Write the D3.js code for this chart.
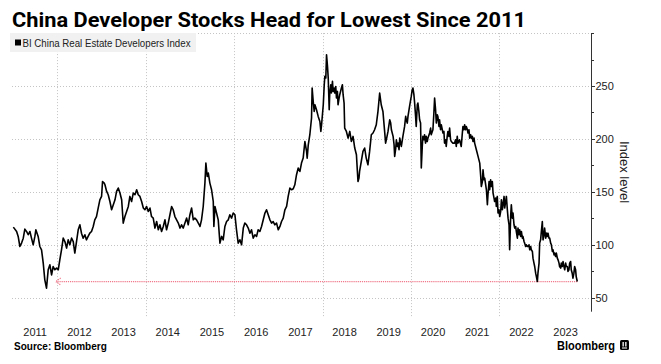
<!DOCTYPE html>
<html><head><meta charset="utf-8">
<script src="https://cdn.jsdelivr.net/npm/d3@7/dist/d3.min.js"></script>
<style>html,body{margin:0;padding:0;background:#fff;}svg{display:block;}</style>
</head><body>
<script>
const title = "China Developer Stocks Head for Lowest Since 2011";
const seriesName = "BI China Real Estate Developers Index";
const yAxisTitle = "Index level";
const sourceText = "Source: Bloomberg";
const brandText = "Bloomberg";
const yearLabels = [2011,2012,2013,2014,2015,2016,2017,2018,2019,2020,2021,2022,2023];
const yTickLabels = [50,100,150,200,250];
const yMinorTicks = [75,125,175,225,275,300];
const yGridValues = [50,100,150,200,250,300];
const xGridYears = [2012,2014,2016,2018,2020,2022];
const arrowLevel = 65.3;
const arrowFrom = "2023-10-07";
const arrowTo = "2011-12-19";

const dates = [
"2011-01-03","2011-01-30","2011-02-12","2011-02-26","2011-03-12","2011-03-26","2011-04-08","2011-04-22","2011-05-06","2011-05-20",
"2011-06-02","2011-06-16","2011-06-30","2011-07-08","2011-07-27","2011-08-10","2011-08-24","2011-09-07","2011-09-20","2011-10-04",
"2011-10-18","2011-11-01","2011-11-15","2011-11-28","2011-12-12","2011-12-26","2012-01-09","2012-01-22","2012-02-05","2012-02-19",
"2012-03-04","2012-03-18","2012-03-31","2012-04-14","2012-04-28","2012-05-12","2012-05-25","2012-06-08","2012-06-22","2012-07-06",
"2012-07-19","2012-08-02","2012-08-16","2012-08-29","2012-09-12","2012-09-26","2012-10-10","2012-10-24","2012-11-06","2012-11-20",
"2012-12-04","2012-12-18","2013-01-01","2013-01-09","2013-01-23",
"2013-01-29","2013-02-12","2013-02-25","2013-03-11","2013-03-25","2013-04-08","2013-04-22","2013-05-05","2013-05-19","2013-06-02",
"2013-06-16","2013-06-29","2013-07-13","2013-07-27","2013-08-10","2013-08-23","2013-09-06","2013-09-20","2013-10-04","2013-10-18",
"2013-10-31","2013-11-14","2013-11-28","2013-12-12","2013-12-25","2014-01-08","2014-01-22","2014-02-05","2014-02-18","2014-03-04",
"2014-03-18","2014-04-01","2014-04-15","2014-04-28","2014-05-12","2014-05-26","2014-06-09","2014-06-22","2014-07-06","2014-07-20",
"2014-08-03","2014-08-16","2014-08-30","2014-09-13","2014-09-27","2014-10-11","2014-10-24","2014-11-07","2014-11-21","2014-12-05",
"2014-12-18","2015-01-01","2015-01-15","2015-01-29","2015-02-11","2015-02-25","2015-03-19",
"2015-03-25","2015-04-07","2015-04-21","2015-05-05","2015-05-13","2015-05-24","2015-06-02","2015-06-15","2015-06-29","2015-07-13",
"2015-07-18","2015-07-27","2015-08-09","2015-08-23","2015-09-06","2015-09-20","2015-10-03","2015-10-17","2015-10-31","2015-11-14",
"2015-11-27","2015-12-11","2015-12-25","2016-01-08","2016-01-21","2016-02-04","2016-02-18","2016-03-03","2016-03-17","2016-03-30",
"2016-04-13","2016-04-27","2016-05-11","2016-05-24","2016-06-07","2016-06-21","2016-07-05","2016-07-18","2016-08-01","2016-08-15",
"2016-08-29","2016-09-12","2016-09-25","2016-10-09","2016-10-23","2016-11-06","2016-11-19","2016-12-03","2016-12-17","2016-12-31",
"2017-01-14","2017-01-27","2017-02-10","2017-02-24","2017-03-10","2017-03-23","2017-04-06","2017-04-20",
"2017-05-04","2017-05-17","2017-05-31","2017-06-14","2017-06-28","2017-07-11","2017-07-25","2017-08-08","2017-08-22","2017-08-27",
"2017-09-05","2017-09-18","2017-10-02","2017-10-07","2017-10-16","2017-10-24","2017-10-30","2017-11-12","2017-11-26","2017-12-10",
"2017-12-18","2017-12-24","2018-01-07","2018-01-15","2018-01-20","2018-01-28","2018-02-03","2018-02-11","2018-02-17","2018-02-25",
"2018-03-01","2018-03-10","2018-03-15","2018-03-24","2018-03-29","2018-04-06","2018-04-12","2018-04-20","2018-04-26","2018-05-04",
"2018-05-09","2018-05-18","2018-05-23","2018-06-06","2018-06-14","2018-06-20","2018-06-28","2018-07-03","2018-07-17","2018-07-31",
"2018-08-14","2018-08-27","2018-09-10","2018-09-24","2018-10-08","2018-10-16","2018-10-21","2018-10-29","2018-11-03","2018-11-17",
"2018-12-01","2018-12-15","2018-12-28","2019-01-11","2019-01-25","2019-02-08","2019-02-22","2019-03-07","2019-03-21","2019-04-04",
"2019-04-18","2019-05-01","2019-05-15","2019-05-29","2019-06-06","2019-06-12","2019-06-26",
"2019-07-10","2019-07-18","2019-07-24","2019-08-07","2019-08-15","2019-08-20","2019-08-29","2019-09-03","2019-09-11","2019-09-17",
"2019-09-25","2019-10-01","2019-10-14","2019-10-27","2019-11-10","2019-11-19","2019-11-24","2019-12-02","2019-12-08","2019-12-21",
"2020-01-04","2020-01-12","2020-01-18","2020-01-26","2020-02-01","2020-02-09","2020-02-14","2020-02-23","2020-02-28","2020-03-07",
"2020-03-13","2020-03-21","2020-03-27","2020-04-04","2020-04-09","2020-04-18","2020-04-23","2020-05-01","2020-05-07","2020-05-15",
"2020-05-21","2020-06-04","2020-06-12","2020-06-17","2020-06-26","2020-07-01","2020-07-09","2020-07-15","2020-07-23","2020-07-29",
"2020-08-06","2020-08-11","2020-08-20","2020-08-25","2020-09-02","2020-09-08","2020-09-22","2020-09-30","2020-10-05","2020-10-14",
"2020-10-19","2020-10-27","2020-11-02","2020-11-10","2020-11-16","2020-11-24","2020-11-30","2020-12-13","2020-12-27","2021-01-04",
"2021-01-10","2021-01-18","2021-01-24","2021-02-06","2021-02-20","2021-02-28","2021-03-06","2021-03-14","2021-03-20","2021-03-28",
"2021-04-03","2021-04-12","2021-04-17","2021-04-25","2021-05-01","2021-05-09","2021-05-15","2021-05-23","2021-05-28","2021-06-06",
"2021-06-11","2021-06-25","2021-07-09","2021-07-23","2021-07-31","2021-08-05","2021-08-14","2021-08-19","2021-08-27",
"2021-09-02","2021-09-10","2021-09-16","2021-09-24","2021-09-29","2021-10-08","2021-10-13","2021-10-21","2021-10-27","2021-11-04",
"2021-11-10","2021-11-18","2021-11-23","2021-12-02","2021-12-07","2021-12-15","2021-12-21","2021-12-29","2022-01-04","2022-01-12",
"2022-01-18","2022-01-26","2022-01-31","2022-02-09","2022-02-14","2022-02-22","2022-02-28","2022-03-08","2022-03-14","2022-03-22",
"2022-03-27","2022-04-05","2022-04-10","2022-04-18","2022-04-24","2022-05-02","2022-05-08","2022-05-16","2022-05-21","2022-05-30",
"2022-06-04","2022-06-12","2022-06-18","2022-06-26","2022-07-02","2022-07-10","2022-07-15","2022-07-24","2022-07-29","2022-08-06",
"2022-08-12","2022-08-20","2022-08-26","2022-09-03","2022-09-09","2022-09-17","2022-09-22","2022-10-01","2022-10-06","2022-10-14",
"2022-10-20","2022-10-28","2022-11-03","2022-11-11","2022-11-16","2022-11-25","2022-11-30","2022-12-08","2022-12-14","2022-12-22",
"2022-12-28","2023-01-05","2023-01-10","2023-01-19","2023-01-24","2023-02-01","2023-02-07","2023-02-15","2023-02-21","2023-03-01",
"2023-03-07","2023-03-15","2023-03-20","2023-03-29","2023-04-03","2023-04-11","2023-04-17","2023-04-25","2023-05-01","2023-05-09",
"2023-05-14","2023-05-23","2023-05-28","2023-06-05","2023-06-11","2023-06-19","2023-06-25","2023-07-03","2023-07-08","2023-07-17",
"2023-07-22","2023-07-30","2023-08-05","2023-08-13","2023-08-18","2023-08-26","2023-09-01","2023-09-09","2023-09-15","2023-09-23",
"2023-09-28","2023-10-07"
];
const values = [
116.7,112.6,107.9,98.4,101.6,106.3,114.8,112.6,109.5,112.6,
106.3,100,107.9,114.2,107.9,98.4,95.3,82.7,66.9,59.1,
76.4,81.1,71.6,79.5,76.4,78,76.4,85.8,95.3,106.3,
103.1,96.9,104.7,100,106.3,103.1,92.2,103.1,114.2,118.9,
111,106.3,109.5,104.7,107.9,111,112.6,117.3,123.6,126.7,
134.7,142.5,145.7,159.8,158.3,
156.7,150.4,147.3,140.9,133.1,137.8,142.5,150.4,153.6,148.9,
142.5,120.5,126.7,131.5,136.2,145.7,140.9,148.9,147.3,152,
147.3,145.7,140.9,134.7,133.1,136.2,131.5,134.7,126.7,125.2,
115.8,122,114.2,118.9,112.6,117.3,123.6,114.2,120.5,128.4,
136.2,133.1,126.7,123.6,120.5,115.8,118.9,115.8,120.5,125.2,
118.9,128.4,134.7,123.6,125.2,123.6,118.9,
117.3,123.6,136.2,158.3,177.2,164.6,167.8,158.3,152,140.9,
117.3,136.2,130,123.6,101.6,107.9,104.7,117.3,122,123.6,
128.4,125.2,130,128.4,114.2,101.6,104.7,100,115.8,120.5,
118.9,115.8,111,114.2,106.3,109.5,107.9,114.2,112.6,117.3,
123.6,130,133.1,128.4,123.6,120.5,122,118.9,120.5,114.2,
117.3,122,125.2,133.1,136.2,145.7,153.6,152,
153,156.7,166.2,172.5,169.3,177.2,181.9,197.6,188.2,181.9,
194.5,204,219.8,248.1,235.4,226,232.3,227.6,221.3,216.5,
207.1,213.4,232.3,251.2,259.1,257.6,279.6,268.5,257.6,227.6,
241.8,251.2,243.4,254.4,244.9,248.1,243.4,249.6,238.7,244.9,
232.3,238.7,241.8,248.1,251.2,241.8,233.9,210.3,207.1,200.8,
207.1,197.6,202.4,191.4,185.1,169.3,159.8,163,169.3,178.7,
188.2,191.4,181.9,175.6,188.2,204,205.6,208.7,213.4,226,
243.4,232.3,226,207.1,196.1,199.2,207.1,
218.1,215,208.7,202.4,194.5,183.5,191.4,199.2,192.9,196.1,
189.8,200.8,192.9,202.4,211.8,221.3,218.1,215,221.3,230.7,
240.2,246.5,248.1,241.8,233.9,221.3,211.8,232.3,233.9,226,
218.1,215,172.5,192.9,202.4,199.2,204,196.1,202.4,197.6,
200.8,205.6,210.3,204,207.1,208.7,224.5,238.7,227.6,215,
222.9,221.3,211.8,218.1,208.7,213.4,205.6,207.1,196.1,199.2,
192.9,202.4,207.1,202.4,210.3,199.2,197.6,196.1,196.1,199.2,
192.9,202.4,196.1,199.2,192.9,204,211.8,208.7,213.4,208.7,
211.8,208.7,205.6,208.7,200.8,204,200.8,202.4,197.6,200.8,
196.1,189.8,183.5,177.2,164.6,155.1,159.8,170.9,161.4,
163,156.7,152,137.8,147.3,159.8,152,161.4,155.1,159.8,
148.9,144.1,140.9,144.1,136.2,145.7,130,133.1,126.7,131.5,
142.5,133.1,137.8,145.7,134.7,140.9,145.7,133.1,125.2,118.9,
95.3,128.4,137.8,125.2,130,118.9,115.8,117.3,112.6,106.3,
115.8,109.5,114.2,107.9,112.6,106.3,107.9,103.1,101.6,98.4,
100,98.4,98.4,100,95.3,98.4,95.3,93.7,87.4,82.7,
79.5,73.2,70,65.3,73.2,82.7,101.6,104.7,112.6,122,
104.7,109.5,115.8,106.3,111,107.9,111,106.3,106.3,101.6,
100,93.7,95.3,90.5,92.2,88.9,92.2,87.4,85.8,82.7,
79.5,78,82.7,79.5,84.2,79.5,76.4,82.7,79.5,79.5,
74.8,76.4,82.7,84.2,76.4,73.2,68.5,73.2,79.5,76.4,
70,65.3
];

const W = 661, H = 364;
const parse = d3.utcParse("%Y-%m-%d");
const data = dates.map((d, i) => ({date: parse(d), value: values[i]}));

const svg = d3.select("body").append("svg").attr("width", W).attr("height", H)
  .style("font-family", "'DejaVu Sans', sans-serif");

const axisX = 591;
const x = d3.scaleUtc().domain([new Date(Date.UTC(2011,0,1)), new Date(Date.UTC(2024,0,1))]).range([13.1, 587.7]);
const y = d3.scaleLinear().domain([36.8, 300]).range([311.7, 33.1]);

// title
svg.append("text").attr("x", 12).attr("y", 27)
  .attr("font-family", "Roboto, 'Liberation Sans', sans-serif")
  .attr("font-weight", "bold").attr("font-size", 21).attr("fill", "#000")
  .attr("textLength", 514).attr("lengthAdjust", "spacingAndGlyphs")
  .text(title);

// grid
const grid = svg.append("g").attr("stroke", "#c4c4c4").attr("stroke-width", 1).attr("stroke-dasharray", "1,2");
grid.selectAll("line.h").data(yGridValues).join("line").attr("class","h")
  .attr("x1", 12).attr("x2", axisX).attr("y1", d => Math.round(y(d)) + 0.5).attr("y2", d => Math.round(y(d)) + 0.5);
grid.selectAll("line.v").data(xGridYears).join("line").attr("class","v")
  .attr("x1", d => Math.round(x(new Date(Date.UTC(d,0,1)))) + 0.5)
  .attr("x2", d => Math.round(x(new Date(Date.UTC(d,0,1)))) + 0.5)
  .attr("y1", y(300)).attr("y2", 317);

// legend box
svg.append("rect").attr("x", 10).attr("y", 33).attr("width", 186).attr("height", 19).attr("fill", "#f1f1f1");
svg.append("rect").attr("x", 15).attr("y", 39.5).attr("width", 6).attr("height", 6).attr("fill", "#000");
svg.append("text").attr("x", 22.5).attr("y", 46.5).attr("font-size", 10).attr("fill", "#222")
  .attr("font-family", "'Liberation Sans', sans-serif")
  .attr("textLength", 168).attr("lengthAdjust", "spacingAndGlyphs")
  .text(seriesName);

// right axis
const yAxis = svg.append("g");
yAxis.append("line").attr("x1", axisX + 0.5).attr("x2", axisX + 0.5).attr("y1", y(300)).attr("y2", y(36.8)).attr("stroke", "#333");
yAxis.selectAll("line.maj").data(yTickLabels).join("line").attr("class","maj")
  .attr("x1", axisX).attr("x2", axisX + 4).attr("y1", d => Math.round(y(d)) + 0.5).attr("y2", d => Math.round(y(d)) + 0.5).attr("stroke", "#333");
yAxis.selectAll("line.min").data(yMinorTicks).join("line").attr("class","min")
  .attr("x1", axisX).attr("x2", axisX + 3).attr("y1", d => Math.round(y(d)) + 0.5).attr("y2", d => Math.round(y(d)) + 0.5).attr("stroke", "#333");
yAxis.selectAll("text").data(yTickLabels).join("text")
  .attr("x", axisX + 4.5).attr("y", d => y(d)).attr("dy", "0.36em")
  .attr("font-size", 11).attr("fill", "#222")
  .attr("font-family", "'Liberation Sans', sans-serif")
  .text(d => d);
svg.append("text").attr("transform", `translate(620,172) rotate(90)`)
  .attr("text-anchor", "middle").attr("font-size", 13).attr("fill", "#222")
  .attr("font-family", "'Liberation Sans', sans-serif")
  .text(yAxisTitle);

// x labels
svg.append("g").selectAll("text").data(yearLabels).join("text")
  .attr("x", d => x(new Date(Date.UTC(d,6,2)))).attr("y", 336)
  .attr("text-anchor", "middle").attr("font-size", 11).attr("fill", "#222")
  .attr("font-family", "'Liberation Sans', sans-serif")
  .text(d => d);

// red arrow
const ay = y(arrowLevel);
const ax1 = x(parse(arrowFrom)), ax2 = x(parse(arrowTo));
svg.append("line").attr("x1", ax1).attr("x2", ax2 + 1).attr("y1", ay).attr("y2", ay)
  .attr("stroke", "#f07a8c").attr("stroke-width", 1.3).attr("stroke-dasharray", "1.2,0.9");
svg.append("path").attr("d", `M${ax2 + 5},${ay - 3.5} L${ax2},${ay} L${ax2 + 5},${ay + 3.5}`)
  .attr("fill", "none").attr("stroke", "#f07a8c").attr("stroke-width", 1.2).attr("stroke-dasharray", "1.2,0.9");

// series line
const line = d3.line().x(d => x(d.date)).y(d => y(d.value));
svg.append("path").datum(data).attr("d", line)
  .attr("fill", "none").attr("stroke", "#000").attr("stroke-width", 1.6).attr("stroke-linejoin", "round");

// footer
svg.append("text").attr("x", 14).attr("y", 350).attr("font-size", 10).attr("font-weight", "bold")
  .attr("font-family", "'Liberation Sans', sans-serif").attr("fill", "#000").text(sourceText);
svg.append("text").attr("x", 557).attr("y", 350).attr("font-size", 12.5).attr("font-weight", "bold")
  .attr("font-family", "'Liberation Sans', sans-serif").attr("fill", "#000")
  .attr("textLength", 58).attr("lengthAdjust", "spacingAndGlyphs").text(brandText);
const icon = svg.append("g").attr("transform", "translate(620,340)");
icon.append("rect").attr("width", 9).attr("height", 10).attr("rx", 1.5).attr("fill", "#000");
icon.append("rect").attr("x", 2.5).attr("y", 2).attr("width", 1.3).attr("height", 4.5).attr("fill", "#fff");
icon.append("rect").attr("x", 5.2).attr("y", 2).attr("width", 1.3).attr("height", 4.5).attr("fill", "#fff");
icon.append("rect").attr("x", 2).attr("y", 7.5).attr("width", 5).attr("height", 1).attr("fill", "#fff");
</script>
</body></html>
